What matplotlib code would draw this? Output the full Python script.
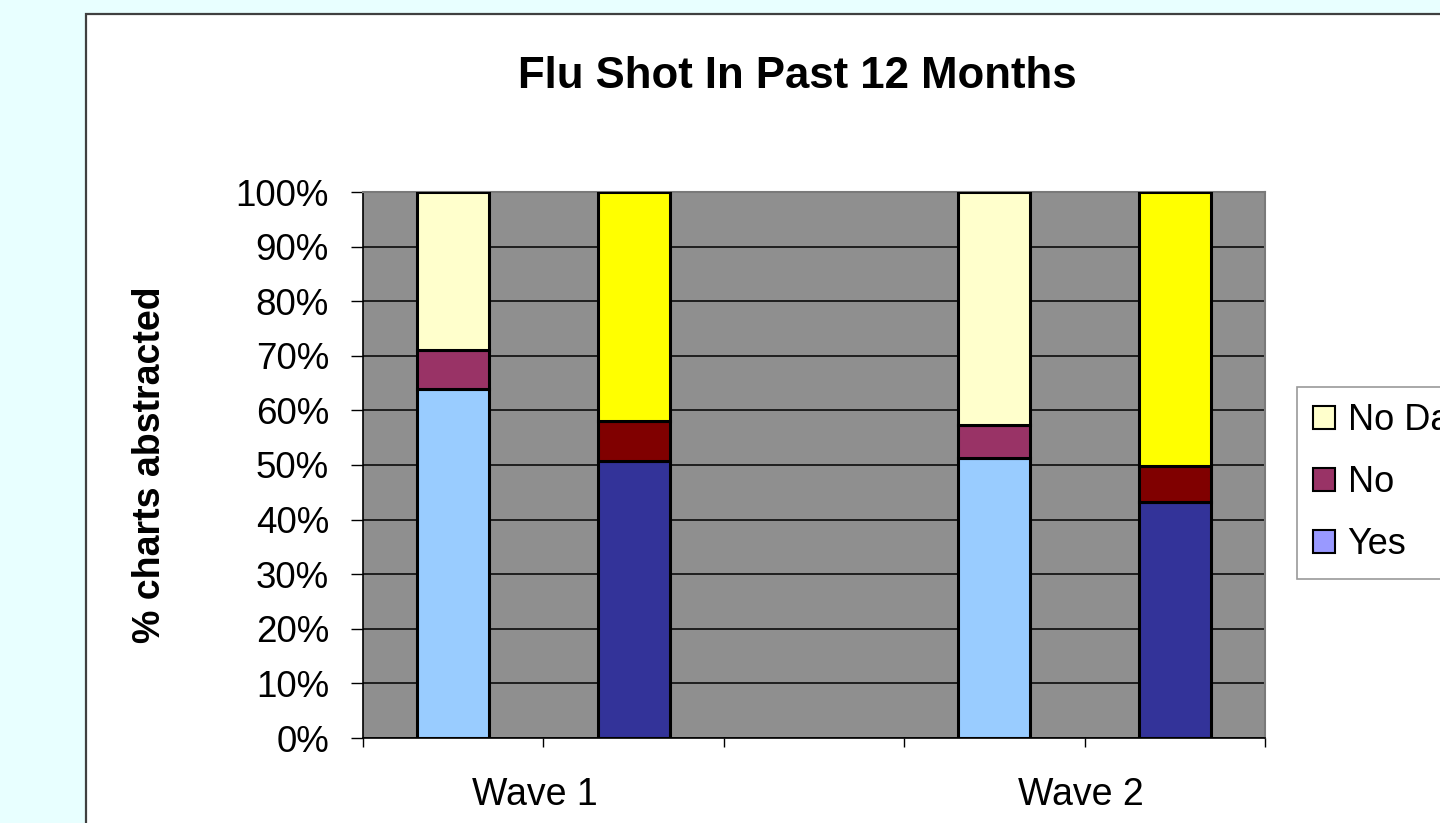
import matplotlib.pyplot as plt
from matplotlib.patches import Rectangle, Patch
from matplotlib.ticker import FixedLocator, PercentFormatter

## DATA ----------------
waves = ['Wave 1', 'Wave 2']
# four bars: wave 1 (first, second), wave 2 (first, second)
yes_vals = [64.0, 50.8, 51.3, 43.2]
no_vals = [7.0, 7.2, 6.1, 6.6]
nodata_vals = [29.0, 42.0, 42.6, 50.2]

legend_labels = ['No Data', 'No', 'Yes']

## STYLE ----------------
yes_colors = ['#99CCFF', '#333399', '#99CCFF', '#333399']
no_colors = ['#993366', '#800000', '#993366', '#800000']
nodata_colors = ['#FFFFCC', '#FFFF00', '#FFFFCC', '#FFFF00']
legend_colors = ['#FFFFCC', '#993366', '#9999FF']

plt.rcParams['font.family'] = ['Liberation Sans', 'DejaVu Sans']

W, H = 1440, 823
fig = plt.figure(figsize=(W / 100, H / 100), dpi=100)
fig.patch.set_facecolor('#E8FFFF')

# white chart area box, runs off the right and bottom edge
fig.patches.append(Rectangle((86 / W, -0.1), 1.2, (H - 14) / H + 0.1,
                             transform=fig.transFigure, facecolor='white',
                             edgecolor='#404040', linewidth=1.6, zorder=-5))

ax = fig.add_axes([363 / W, (H - 738) / H, (1265 - 363) / W, (738 - 192) / H])
ax.set_zorder(1)
ax.set_facecolor('#8F8F8F')

bar_pos = [0, 1, 3, 4]
bw = 0.4
bottom2 = [y + n for y, n in zip(yes_vals, no_vals)]
ax.bar(bar_pos, yes_vals, bw, color=yes_colors, edgecolor='black', linewidth=2.2, zorder=3)
ax.bar(bar_pos, no_vals, bw, bottom=yes_vals, color=no_colors, edgecolor='black', linewidth=2.2, zorder=3)
ax.bar(bar_pos, nodata_vals, bw, bottom=bottom2, color=nodata_colors, edgecolor='black', linewidth=2.2, zorder=3)

ax.set_xlim(-0.5, 4.5)
ax.set_ylim(0, 100)

# y axis
ax.yaxis.set_major_locator(FixedLocator(range(0, 101, 10)))
ax.yaxis.set_major_formatter(PercentFormatter(decimals=0))
ax.tick_params(axis='y', length=8.5, width=1, color='black', pad=16, labelsize=26.5)
ax.grid(axis='y', color='black', linewidth=1.1, zorder=1)
ax.set_axisbelow(True)

# x axis: ticks at category boundaries, wave labels between bar pairs
ax.set_xticks([-0.5, 0.5, 1.5, 2.5, 3.5, 4.5])
ax.set_xticklabels([])
ax.tick_params(axis='x', which='major', length=6.5, width=1, color='black')
ax.set_xticks([0.45, 3.48], minor=True)
ax.set_xticklabels(waves, minor=True)
ax.tick_params(axis='x', which='minor', length=0, pad=28, labelsize=27)

for side in ['left', 'bottom']:
    ax.spines[side].set_color('black')
    ax.spines[side].set_linewidth(1.2)
for side in ['top', 'right']:
    ax.spines[side].set_color('#7A7A7A')
    ax.spines[side].set_linewidth(1.5)

fig.text(797 / W, (H - 77) / H, 'Flu Shot In Past 12 Months', ha='center', va='center',
         fontsize=31.5, fontweight='bold')
fig.text(150 / W, (H - 465) / H, '% charts abstracted', ha='center', va='center',
         rotation=90, fontsize=27, fontweight='bold')

handles = [Patch(facecolor=c, edgecolor='black', linewidth=1.5) for c in legend_colors]
leg = fig.legend(handles, legend_labels, loc='upper left',
                 bbox_to_anchor=(1297 / W, (H - 387) / H), fontsize=26,
                 frameon=True, fancybox=False, borderaxespad=0, borderpad=0.45,
                 labelspacing=0.75, handlelength=0.6, handleheight=0.6,
                 handletextpad=0.35)
leg.get_frame().set_edgecolor('#808080')
leg.get_frame().set_linewidth(1.2)

fig.savefig('out.png', dpi=100, facecolor=fig.get_facecolor())
